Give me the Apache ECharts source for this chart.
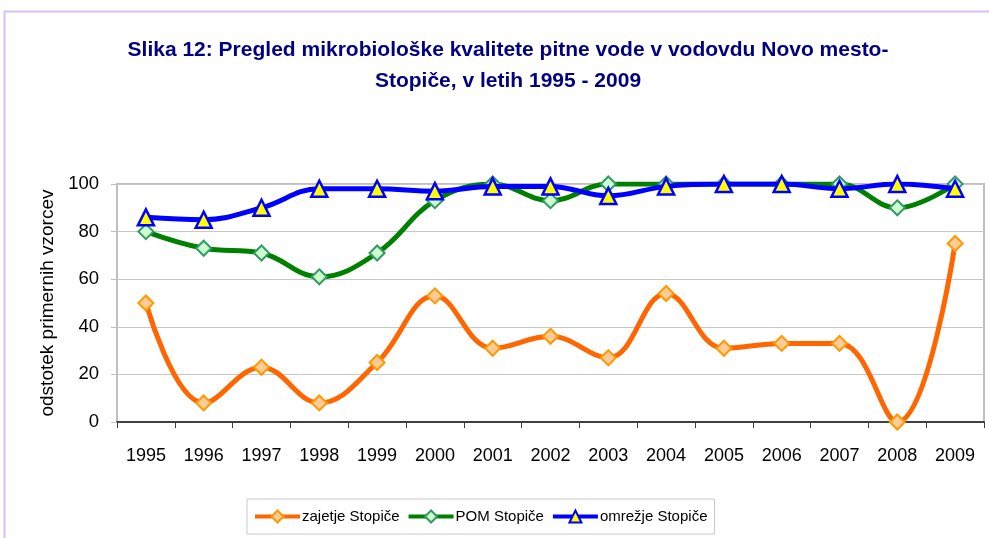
<!DOCTYPE html>
<html>
<head>
<meta charset="UTF-8">
<title>Slika 12</title>
<script src="https://cdn.jsdelivr.net/npm/echarts@6/dist/echarts.min.js"></script>
<style>
  html, body { margin: 0; padding: 0; background: #fff; }
  #main { width: 989px; height: 538px; }
</style>
</head>
<body>
<div id="main"></div>
<script type="text/javascript">
var years = ['1995', '1996', '1997', '1998', '1999', '2000', '2001', '2002', '2003', '2004', '2005', '2006', '2007', '2008', '2009'];
var zajetje = [50, 8, 23, 8, 25, 53, 31, 36, 27, 54, 31, 33, 33, 0, 75];
var pom = [80, 73, 71, 61, 71, 93, 100, 93, 100, 100, 100, 100, 100, 90, 100];
var omrezje = [86, 85, 90, 98, 98, 97, 99, 99, 95, 99, 100, 100, 98, 100, 98];
var yTicks = [0, 20, 40, 60, 80, 100];

var font = '"Liberation Sans", Arial, sans-serif';

var myChart = echarts.init(document.getElementById('main'));

var option = {
    backgroundColor: '#fff',
    animation: false,
    graphic: [{
        type: 'rect',
        left: 2, top: 9,
        shape: { width: 1100, height: 700 },
        style: { fill: 'none', stroke: '#d9bff5', lineWidth: 2 },
        silent: true
    }],
    title: {
        text: 'Slika 12: Pregled mikrobiološke kvalitete pitne vode v vodovdu Novo mesto-\nStopiče, v letih 1995 - 2009',
        left: 503,
        textAlign: 'center',
        top: 30,
        textStyle: {
            fontFamily: font,
            fontSize: 21,
            fontWeight: 'bold',
            color: '#000080',
            lineHeight: 31
        }
    },
    legend: {
        data: ['zajetje Stopiče', 'POM Stopiče', 'omrežje Stopiče'],
        left: 247,
        top: 499,
        itemWidth: 45,
        itemHeight: 15,
        itemGap: 7,
        padding: [10, 7, 10, 6],
        borderColor: '#c8c8c8',
        borderWidth: 1,
        lineStyle: { width: 4 },
        textStyle: { fontFamily: font, fontSize: 15, color: '#000', padding: [0, 0, 0, -3] }
    },
    grid: {
        left: 117, right: 5, top: 184, bottom: 116,
        show: true,
        borderColor: '#c0c0c0',
        borderWidth: 2
    },
    xAxis: {
        type: 'category',
        data: years,
        boundaryGap: true,
        axisLine: { lineStyle: { color: '#404040', width: 2 } },
        axisTick: { show: true, length: 6, lineStyle: { color: '#404040', width: 1 } },
        axisLabel: { interval: 0, margin: 25, fontFamily: font, fontSize: 18, color: '#000' },
        splitLine: { show: false }
    },
    yAxis: {
        type: 'value',
        min: 0,
        max: 100,
        interval: 20,
        name: 'odstotek primernih vzorcev',
        nameLocation: 'middle',
        nameRotate: 90,
        nameGap: 58,
        nameTextStyle: { fontFamily: font, fontSize: 19, color: '#000' },
        axisLine: { show: true, lineStyle: { color: '#c0c0c0', width: 2 } },
        axisTick: { show: true, length: 6, inside: false, lineStyle: { color: '#c0c0c0' } },
        axisLabel: {
            margin: 18, fontFamily: font, fontSize: 18.5, color: '#000',
            formatter: function (v) { return yTicks.indexOf(v) >= 0 ? String(v) : ''; }
        },
        splitLine: { show: true, lineStyle: { color: '#c8c8c8', width: 1 } }
    },
    series: [{
        name: 'zajetje Stopiče',
        type: 'line',
        data: zajetje,
        smooth: 0.4,
        symbol: 'diamond',
        symbolSize: 15,
        lineStyle: { color: '#ff6600', width: 5 },
        itemStyle: { color: '#ffcc99', borderColor: '#ff9900', borderWidth: 2 },
        z: 3
    }, {
        name: 'POM Stopiče',
        type: 'line',
        data: pom,
        smooth: 0.4,
        symbol: 'diamond',
        symbolSize: 15,
        lineStyle: { color: '#008000', width: 5 },
        itemStyle: { color: '#ccffcc', borderColor: '#339966', borderWidth: 2 },
        z: 4
    }, {
        name: 'omrežje Stopiče',
        type: 'line',
        data: omrezje,
        smooth: 0.4,
        symbol: 'triangle',
        symbolSize: 16,
        lineStyle: { color: '#0000ff', width: 5 },
        itemStyle: { color: '#ffff00', borderColor: '#0000ff', borderWidth: 2.5 },
        z: 5
    }]
};

myChart.setOption(option);
</script>
</body>
</html>
